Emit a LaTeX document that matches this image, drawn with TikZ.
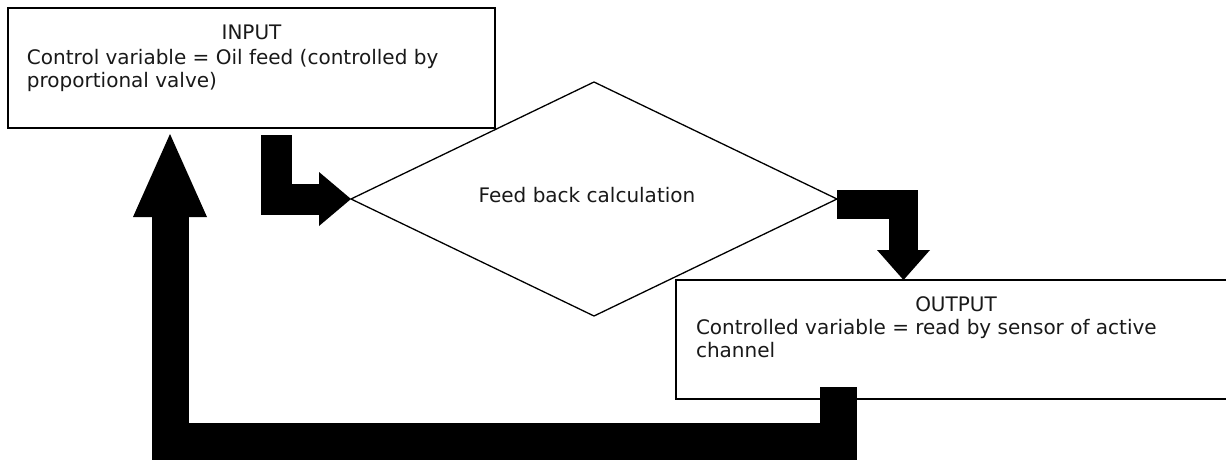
\documentclass[tikz,border=0pt]{standalone}
\usepackage{fontspec}
\setmainfont{DejaVu Sans}
\usetikzlibrary{shapes.geometric,arrows.meta,calc}
\begin{document}
\begin{tikzpicture}[x=1pt,y=-1pt,
  box/.style={draw=black, line width=1.3pt, inner sep=0pt, outer sep=0pt},
  txt/.style={inner sep=0pt, outer sep=0pt, font=\fontsize{20}{23}\selectfont, text=black!90},
  blockarrow/.style={draw=black, line join=miter, line cap=butt},
]
\useasboundingbox (0,0) rectangle (1226,460);
\clip (0,0) rectangle (1226,460);
\fill[white] (0,0) rectangle (1226,460);

% boxes
\node[box, minimum width=487pt, minimum height=120pt] (inbox) at (251.5,68) {};
\node[box, diamond, minimum width=486pt, minimum height=234pt] (calc) at (594,199) {};
\node[box, minimum width=564pt, minimum height=119pt] (outbox) at (958,339.5) {};

% texts
\node[txt, anchor=base] (intitle) at (251.5,40) {INPUT};
\node[txt, anchor=base west] (inl1) at (27,65) {Control variable = Oil feed (controlled by};
\node[txt, anchor=base west] (inl2) at (27,88) {proportional valve)};
\node[txt] (calctxt) at (587,195) {Feed back calculation};
\node[txt, anchor=base] (outtitle) at (956,311) {OUTPUT};
\node[txt, anchor=base west] (outl1) at (696,334) {Controlled variable = read by sensor of active};
\node[txt, anchor=base west] (outl2) at (696,357) {channel};

% block arrows
\coordinate (a1s) at ($(inbox.south west)+(268.5,7)$);
\draw[blockarrow, line width=31pt, -{Triangle[length=32pt,width=54pt,line width=0pt]}] (a1s) |- (calc.west);

\coordinate (a2s) at ($(calc.east)+(0,5.5)$);
\coordinate (a2e) at ($(outbox.north west)+(227.5,0)$);
\draw[blockarrow, line width=29pt, -{Triangle[length=30pt,width=53pt,line width=0pt]}] (a2s) -| (a2e);

\coordinate (a3s) at ($(outbox.south west)+(162.5,-12)$);
\coordinate (a3e) at ($(inbox.south west)+(162,6)$);
\coordinate (a3c) at ($(a3e)+(0,307.5)$);
\draw[blockarrow, line width=37pt, -{Triangle[length=83pt,width=74pt,line width=0pt]}] (a3s) |- (a3c) -- (a3e);
\end{tikzpicture}
\end{document}
